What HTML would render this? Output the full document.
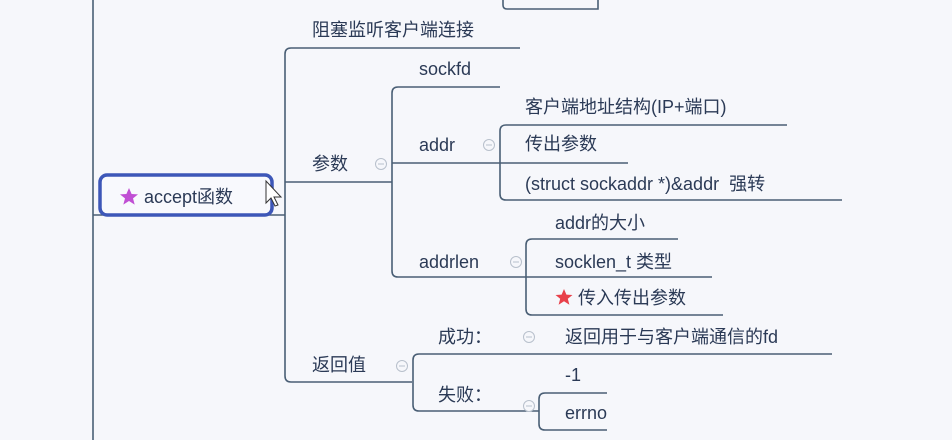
<!DOCTYPE html>
<html><head><meta charset="utf-8"><style>
html,body{margin:0;padding:0;background:#f6f7fb;}
svg{display:block}
text{font-family:"Liberation Sans","Noto Sans CJK SC",sans-serif;font-size:18px;fill:#2b3a56;dominant-baseline:central;}
</style></head><body>
<svg width="952" height="440" viewBox="0 0 952 440" xmlns="http://www.w3.org/2000/svg">
<rect width="952" height="440" fill="#f6f7fb"/>
<g fill="none" stroke="#4a5f75" stroke-width="1.6">
<line x1="93" y1="0" x2="93" y2="440"/>
<path d="M503 0 V5 Q503 9 507 9 H598 V0"/>
<line x1="93" y1="215" x2="285" y2="215"/>
<path d="M520 48 H291 Q285 48 285 54 V376 Q285 382 291 382 H412"/>
<line x1="285" y1="182" x2="392" y2="182"/>
<path d="M500 87 H398 Q392 87 392 93 V271 Q392 277 398 277 H712"/>
<line x1="392" y1="163" x2="628" y2="163"/>
<path d="M787 125 H506 Q500 125 500 131 V194 Q500 200 506 200 H842"/>
<path d="M678 239 H532 Q526 239 526 245 V309 Q526 315 532 315 H723"/>
<path d="M832 354 H419 Q413 354 413 360 V405 Q413 411 419 411 H539"/>
<path d="M607 393 H545 Q539 393 539 399 V424 Q539 430 545 430 H607"/>
</g>
<g fill="#f6f7fb" stroke="#b8c0cc" stroke-width="1">
<circle cx="381" cy="164" r="5.5"/><circle cx="489" cy="145" r="5.5"/>
<circle cx="516" cy="262" r="5.5"/><circle cx="402" cy="366" r="5.5"/>
<circle cx="529" cy="337" r="5.5"/><circle cx="529" cy="406" r="5.5"/>
</g>
<g stroke="#b8c0cc" stroke-width="1">
<line x1="378" y1="164" x2="384" y2="164"/><line x1="486" y1="145" x2="492" y2="145"/>
<line x1="513" y1="262" x2="519" y2="262"/><line x1="399" y1="366" x2="405" y2="366"/>
<line x1="526" y1="337" x2="532" y2="337"/><line x1="526" y1="406" x2="532" y2="406"/>
</g>
<rect x="100" y="175" width="172" height="40" rx="7" fill="#f8f9fd" stroke="#3d57b8" stroke-width="3.5"/>
<polygon points="129,188 131.6,194 138,194.4 133,198.4 134.7,204.6 129,201 123.3,204.6 125,198.4 120,194.4 126.4,194" fill="#c04fd4"/>
<text x="144" y="197">accept函数</text>
<path d="M266 181 L266 203 L271 198 L275 206 L278 205 L274 197 L281 197 Z" fill="#fff" stroke="#333" stroke-width="1"/>
<text x="312" y="30">阻塞监听客户端连接</text>
<text x="312" y="164">参数</text>
<text x="419" y="69">sockfd</text>
<text x="419" y="145">addr</text>
<text x="525" y="107">客户端地址结构(IP+端口)</text>
<text x="525" y="144">传出参数</text>
<text x="525" y="184">(struct sockaddr *)&amp;addr&#160;&#160;强转</text>
<text x="419" y="262">addrlen</text>
<text x="555" y="223">addr的大小</text>
<text x="555" y="262">socklen_t 类型</text>
<polygon points="564,289 566.4,294.6 572.5,295 567.8,298.8 569.4,304.7 564,301.3 558.6,304.7 560.2,298.8 555.5,295 561.6,294.6" fill="#e8404a"/>
<text x="578" y="298">传入传出参数</text>
<text x="312" y="365">返回值</text>
<text x="438" y="337">成功：</text>
<text x="565" y="337">返回用于与客户端通信的fd</text>
<text x="565" y="375">-1</text>
<text x="438" y="395">失败：</text>
<text x="565" y="413">errno</text>
</svg>
</body></html>
